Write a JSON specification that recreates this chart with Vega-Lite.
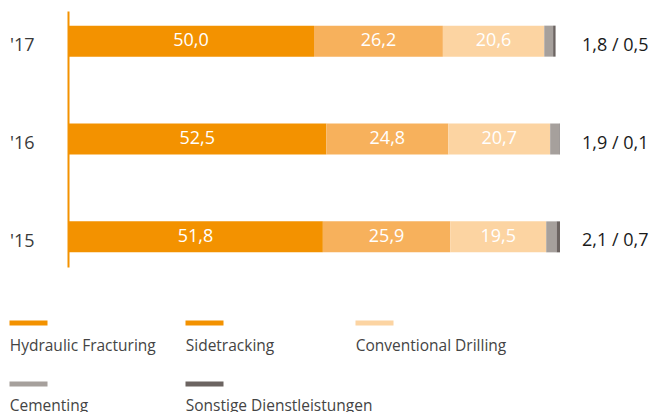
{
  "$schema": "https://vega.github.io/schema/vega-lite/v6.json",
  "width": 492,
  "height": 256,
  "autosize": {"type": "none"},
  "padding": {"left": 68, "top": 11, "right": 91, "bottom": 145},
  "config": {
    "view": {"stroke": null},
    "font": "Open Sans",
    "locale": {"number": {"decimal": ",", "thousands": ".", "grouping": [3], "currency": ["", " €"]}}
  },
  "datasets": {
    "anteile": [
      {"Jahr": "'17", "Segment": "Hydraulic Fracturing", "Rang": 1, "Wert": 50.0},
      {"Jahr": "'17", "Segment": "Sidetracking", "Rang": 2, "Wert": 26.2},
      {"Jahr": "'17", "Segment": "Conventional Drilling", "Rang": 3, "Wert": 20.6},
      {"Jahr": "'17", "Segment": "Cementing", "Rang": 4, "Wert": 1.8},
      {"Jahr": "'17", "Segment": "Sonstige Dienstleistungen", "Rang": 5, "Wert": 0.5},
      {"Jahr": "'16", "Segment": "Hydraulic Fracturing", "Rang": 1, "Wert": 52.5},
      {"Jahr": "'16", "Segment": "Sidetracking", "Rang": 2, "Wert": 24.8},
      {"Jahr": "'16", "Segment": "Conventional Drilling", "Rang": 3, "Wert": 20.7},
      {"Jahr": "'16", "Segment": "Cementing", "Rang": 4, "Wert": 1.9},
      {"Jahr": "'16", "Segment": "Sonstige Dienstleistungen", "Rang": 5, "Wert": 0.1},
      {"Jahr": "'15", "Segment": "Hydraulic Fracturing", "Rang": 1, "Wert": 51.8},
      {"Jahr": "'15", "Segment": "Sidetracking", "Rang": 2, "Wert": 25.9},
      {"Jahr": "'15", "Segment": "Conventional Drilling", "Rang": 3, "Wert": 19.5},
      {"Jahr": "'15", "Segment": "Cementing", "Rang": 4, "Wert": 2.1},
      {"Jahr": "'15", "Segment": "Sonstige Dienstleistungen", "Rang": 5, "Wert": 0.7}
    ],
    "rest": [
      {"Jahr": "'17", "Text": "1,8 / 0,5"},
      {"Jahr": "'16", "Text": "1,9 / 0,1"},
      {"Jahr": "'15", "Text": "2,1 / 0,7"}
    ]
  },
  "layer": [
    {
      "data": {"name": "anteile"},
      "mark": {"type": "bar", "size": 31},
      "encoding": {
        "y": {
          "field": "Jahr",
          "type": "ordinal",
          "scale": {"type": "point", "domain": ["'17", "'16", "'15"], "padding": 0.308},
          "axis": {
            "title": null,
            "ticks": false,
            "tickSize": 0,
            "grid": false,
            "domainColor": "#f39200",
            "domainWidth": 2,
            "labelFont": "Open Sans",
            "labelFontSize": 18,
            "labelColor": "#3a3a3a",
            "labelAlign": "left",
            "labelBaseline": "middle",
            "labelPadding": 58.5,
            "labelOffset": 4.5
          }
        },
        "x": {
          "field": "Wert",
          "type": "quantitative",
          "stack": "zero",
          "scale": {"domain": [0, 100], "nice": false},
          "axis": null
        },
        "color": {
          "field": "Segment",
          "type": "nominal",
          "scale": {
            "domain": ["Hydraulic Fracturing", "Sidetracking", "Conventional Drilling", "Cementing", "Sonstige Dienstleistungen"],
            "range": ["#f39200", "#f7b15c", "#fcd4a2", "#a6a09c", "#6c6461"]
          },
          "legend": null
        },
        "order": {"field": "Rang", "type": "quantitative"}
      }
    },
    {
      "data": {"name": "anteile"},
      "transform": [
        {"stack": "Wert", "groupby": ["Jahr"], "sort": [{"field": "Rang", "order": "ascending"}], "as": ["x0", "x1"]},
        {"filter": {"field": "Rang", "lte": 3}},
        {"fold": ["x0", "x1"], "as": ["Kante", "Pos"]},
        {"aggregate": [{"op": "mean", "field": "Pos", "as": "Mitte"}], "groupby": ["Jahr", "Segment", "Wert"]}
      ],
      "mark": {"type": "text", "color": "#ffffff", "fontSize": 18, "font": "Open Sans", "baseline": "middle", "align": "center"},
      "encoding": {
        "y": {"field": "Jahr", "type": "ordinal"},
        "x": {"field": "Mitte", "type": "quantitative"},
        "text": {"field": "Wert", "type": "quantitative", "format": ".1f"}
      }
    },
    {
      "data": {"name": "rest"},
      "mark": {"type": "text", "align": "left", "baseline": "middle", "fontSize": 18, "font": "Open Sans", "color": "#1a1a1a", "dx": 22, "dy": 4.5},
      "encoding": {
        "y": {"field": "Jahr", "type": "ordinal"},
        "x": {"datum": 100, "type": "quantitative"},
        "text": {"field": "Text", "type": "nominal"}
      }
    },
    {
      "data": {"name": "anteile"},
      "transform": [{"filter": "datum.Wert < 0"}],
      "mark": "bar",
      "encoding": {
        "color": {
          "field": "Segment",
          "type": "nominal",
          "scale": {
            "domain": ["Hydraulic Fracturing", "Sidetracking", "Conventional Drilling"],
            "range": ["#f39200", "#f39200", "#fcd4a2"]
          },
          "legend": {
            "orient": "none",
            "legendX": -65.25,
            "legendY": 326.75,
            "direction": "horizontal",
            "columns": 3,
            "gridAlign": "each",
            "columnPadding": 23,
            "title": null,
            "padding": 0,
            "symbolType": "M-1,-25.5h38v5h-38zM139,-23",
            "symbolSize": 4,
            "symbolStrokeWidth": 0,
            "labelOffset": -8.5,
            "labelFont": "Open Sans",
            "labelFontSize": 15.5,
            "labelColor": "#444444",
            "labelLimit": 400
          }
        }
      }
    },
    {
      "data": {"name": "anteile"},
      "transform": [{"filter": "datum.Wert < 0"}],
      "mark": "bar",
      "encoding": {
        "color": {
          "field": "Segment",
          "type": "nominal",
          "scale": {
            "domain": ["Cementing", "Sonstige Dienstleistungen"],
            "range": ["#a6a09c", "#6c6461"]
          },
          "legend": {
            "orient": "none",
            "legendX": -65.25,
            "legendY": 386.45,
            "direction": "horizontal",
            "columns": 2,
            "gridAlign": "each",
            "columnPadding": 10,
            "title": null,
            "padding": 0,
            "symbolType": "M-1,-24h38v5h-38zM158.25,-21",
            "symbolSize": 4,
            "symbolStrokeWidth": 0,
            "labelOffset": -8.5,
            "labelFont": "Open Sans",
            "labelFontSize": 15.5,
            "labelColor": "#444444",
            "labelLimit": 400
          }
        }
      }
    }
  ],
  "resolve": {"scale": {"color": "independent"}}
}
